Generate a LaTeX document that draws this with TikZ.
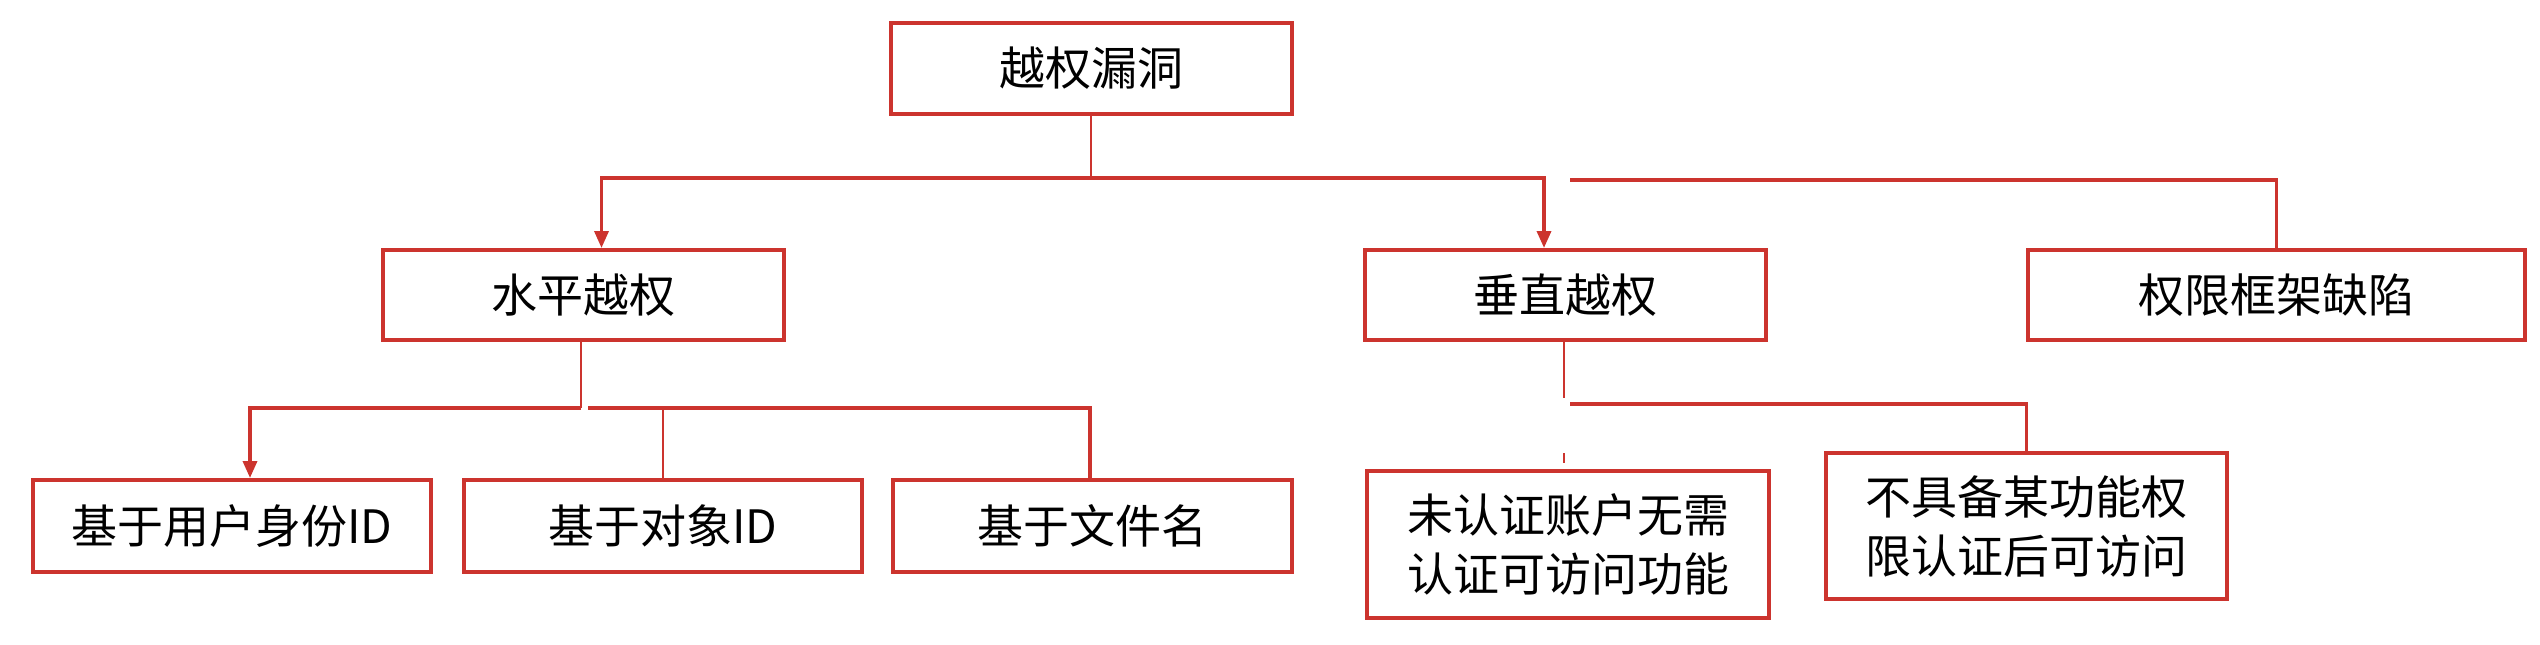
\documentclass[tikz,border=0pt]{standalone}
\usepackage{fontspec}
\newfontfamily\cjk{Noto Sans CJK SC}
\usetikzlibrary{arrows.meta}
\definecolor{boxred}{RGB}{204,52,46}
\tikzset{
  box/.style={draw=boxred, line width=4pt, fill=white, inner sep=0pt, align=center,
    font=\cjk\fontsize{46}{59}\selectfont, text=black},
  link/.style={draw=boxred, line width=3.5pt},
  stem/.style={draw=boxred, line width=2pt},
  arr/.style={-{Triangle[width=14pt,length=17pt]}}
}
\begin{document}
\begin{tikzpicture}[x=1pt,y=-1pt]
\useasboundingbox (0,0) rectangle (2540,645);
% nodes
\node[box, minimum width=401pt, minimum height=91pt] (top) at (1091,68.5) {越权漏洞};
\node[box, minimum width=401pt, minimum height=90pt] (h) at (583.5,295) {水平越权};
\node[box, minimum width=401pt, minimum height=90pt] (v) at (1565.5,295) {垂直越权};
\node[box, minimum width=497pt, minimum height=90pt] (f) at (2276.5,295) {权限框架缺陷};
\node[box, minimum width=398pt, minimum height=92pt] (b1) at (232,526) {基于用户身份ID};
\node[box, minimum width=398pt, minimum height=92pt] (b2) at (663,526) {基于对象ID};
\node[box, minimum width=399pt, minimum height=92pt] (b3) at (1092.5,526) {基于文件名};
\node[box, minimum width=402pt, minimum height=147pt] (u) at (1568,544.5) {未认证账户无需\\认证可访问功能};
\node[box, minimum width=401pt, minimum height=146pt] (n) at (2026.5,526) {不具备某功能权\\限认证后可访问};
% junction coordinates
\coordinate (j1) at (1091,178);
\coordinate (j2) at (1570,180);
\coordinate (j3) at (581,408);
\coordinate (j4) at (588,408);
\coordinate (j5) at (1564,398);
\coordinate (j6) at (1570,404);
\coordinate (t1) at (1564,453);
\coordinate (t2) at (1564,463);
% connectors from top
\draw[stem] (top.south) -- (j1);
\draw[link, arr] (j1) -| ([xshift=18pt]h.north);
\draw[link, arr] (j1) -| ([xshift=-21.5pt]v.north);
\draw[link] (j2) -| (f.north);
% connectors from 水平越权
\draw[stem] ([xshift=-2.5pt]h.south) -- (j3);
\draw[link, arr] (j3) -| ([xshift=18pt]b1.north);
\draw[link] (j4) -| ([xshift=-2.5pt]b3.north);
\draw[stem] (j4 -| b2.north) -- (b2.north);
% connectors from 垂直越权
\draw[stem, line width=1.5pt] ([xshift=-1.5pt]v.south) -- (j5);
\draw[link] (j6) -| (n.north);
\draw[stem, line width=1.5pt] (t1) -- (t2);
\end{tikzpicture}
\end{document}
